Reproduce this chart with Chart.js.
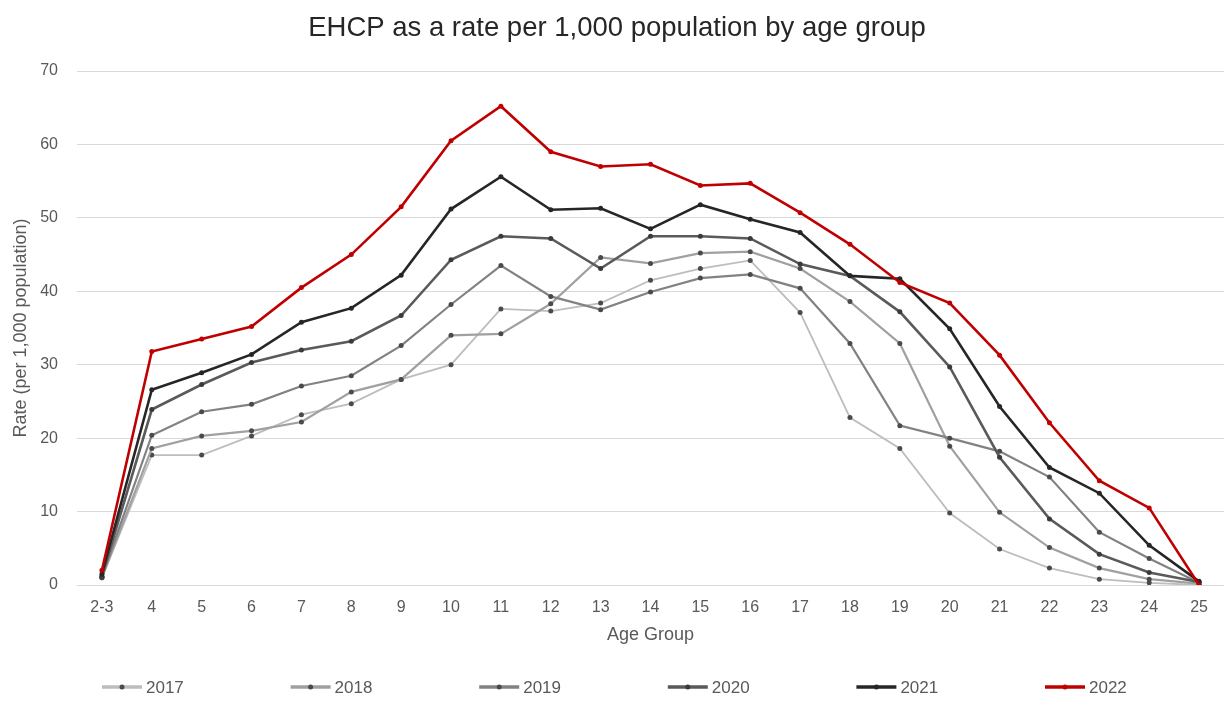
<!DOCTYPE html>
<html>
<head>
<meta charset="utf-8">
<script src="https://cdn.jsdelivr.net/npm/chart.js@4.4.0/dist/chart.umd.min.js"></script>
<style>
  html, body { margin: 0; padding: 0; background: #fff; }
</style>
</head>
<body>
<canvas id="ehcpChart" width="1228" height="701"></canvas>
<script>
// Age groups along the x axis
const ageGroups = ['2-3', '4', '5', '6', '7', '8', '9', '10', '11', '12', '13', '14',
  '15', '16', '17', '18', '19', '20', '21', '22', '23', '24', '25'];

const years = ['2017', '2018', '2019', '2020', '2021', '2022'];

// EHCP rate per 1,000 population
const rate2017 = [1.0, 17.7, 17.7, 20.3, 23.2, 24.7, 28.0, 30.0, 37.6, 37.3, 38.4, 41.5,
  43.1, 44.2, 37.1, 22.8, 18.6, 9.8, 4.9, 2.3, 0.8, 0.3, 0.0];
const rate2018 = [1.0, 18.6, 20.3, 21.0, 22.2, 26.3, 28.0, 34.0, 34.2, 38.3, 44.6, 43.8,
  45.2, 45.4, 43.1, 38.6, 32.9, 18.9, 9.9, 5.1, 2.3, 0.8, 0.2];
const rate2019 = [1.1, 20.4, 23.6, 24.6, 27.1, 28.5, 32.6, 38.2, 43.5, 39.3, 37.5, 39.9,
  41.8, 42.3, 40.4, 32.9, 21.7, 20.0, 18.2, 14.7, 7.2, 3.6, 0.3];
const rate2020 = [1.2, 23.9, 27.3, 30.3, 32.0, 33.2, 36.7, 44.3, 47.5, 47.2, 43.1, 47.5,
  47.5, 47.2, 43.7, 42.1, 37.2, 29.7, 17.4, 9.0, 4.2, 1.7, 0.4];
const rate2021 = [1.5, 26.6, 28.9, 31.4, 35.8, 37.7, 42.2, 51.2, 55.6, 51.1, 51.3, 48.5,
  51.8, 49.8, 48.0, 42.1, 41.7, 34.9, 24.3, 16.0, 12.5, 5.4, 0.5];
const rate2022 = [2.0, 31.8, 33.5, 35.2, 40.5, 45.0, 51.5, 60.5, 65.2, 59.0, 57.0, 57.3,
  54.4, 54.7, 50.7, 46.4, 41.2, 38.4, 31.3, 22.1, 14.2, 10.5, 0.0];

const allRates = [rate2017, rate2018, rate2019, rate2020, rate2021, rate2022];
const lineColours = ['#bdbdbd', '#a0a0a0', '#828282', '#5a5a5a', '#262626', '#c00000'];
const lineWidths = [1.8, 2.2, 2.2, 2.6, 2.6, 2.6];
const dotColours = ['#4a4a4a', '#4a4a4a', '#4a4a4a', '#3a3a3a', '#262626', '#c00000'];

const FONT = 'Liberation Sans, Arial, sans-serif';

// legend drawn by hand so the items can sit far apart like the original
const bottomLegend = {
  id: 'bottomLegend',
  afterDraw(chart) {
    const ctx = chart.ctx;
    const y = 687;
    ctx.save();
    years.forEach((yr, i) => {
      const x0 = 102 + i * 188.6;
      ctx.strokeStyle = lineColours[i];
      ctx.lineWidth = 3.5;
      ctx.beginPath();
      ctx.moveTo(x0, y);
      ctx.lineTo(x0 + 40, y);
      ctx.stroke();
      ctx.fillStyle = dotColours[i];
      ctx.beginPath();
      ctx.arc(x0 + 20, y, 2.5, 0, Math.PI * 2);
      ctx.fill();
      ctx.fillStyle = '#595959';
      ctx.font = '17px ' + FONT;
      ctx.textBaseline = 'middle';
      ctx.fillText(yr, x0 + 44, y + 1);
    });
    ctx.restore();
  }
};

const datasets = years.map((yr, i) => ({
  label: yr,
  data: allRates[i],
  borderColor: lineColours[i],
  borderWidth: lineWidths[i],
  pointRadius: 2.5,
  pointBackgroundColor: dotColours[i],
  pointBorderWidth: 0,
  tension: 0,
  order: years.length - 1 - i
}));

new Chart(document.getElementById('ehcpChart'), {
  type: 'line',
  data: { labels: ageGroups, datasets: datasets },
  plugins: [bottomLegend],
  options: {
    responsive: false,
    animation: false,
    layout: { padding: { left: 10, right: 4, bottom: 55 } },
    plugins: {
      legend: { display: false },
      tooltip: { enabled: false },
      title: {
        display: true,
        text: 'EHCP as a rate per 1,000 population by age group',
        color: '#262626',
        font: { family: FONT, size: 27.5, weight: 'normal' },
        padding: { top: 12, bottom: 26 }
      }
    },
    scales: {
      x: {
        offset: true,
        grid: { display: false, drawTicks: false },
        border: { display: false },
        ticks: { color: '#595959', font: { family: FONT, size: 16 }, padding: 13, maxRotation: 0 },
        title: {
          display: true,
          text: 'Age Group',
          color: '#595959',
          font: { family: FONT, size: 18 },
          padding: { top: 0, bottom: 0 }
        },
        afterFit(scale) { scale.height = 61; }
      },
      y: {
        min: 0,
        max: 70,
        ticks: { stepSize: 10, color: '#595959', font: { family: FONT, size: 16 }, padding: 19 },
        grid: { color: '#d9d9d9', lineWidth: 1, drawTicks: false },
        border: { display: false },
        title: {
          display: true,
          text: 'Rate (per 1,000 population)',
          color: '#595959',
          font: { family: FONT, size: 18 },
          padding: { top: 0, bottom: 0 }
        },
        afterFit(scale) { scale.width = 67; }
      }
    }
  }
});
</script>
</body>
</html>
